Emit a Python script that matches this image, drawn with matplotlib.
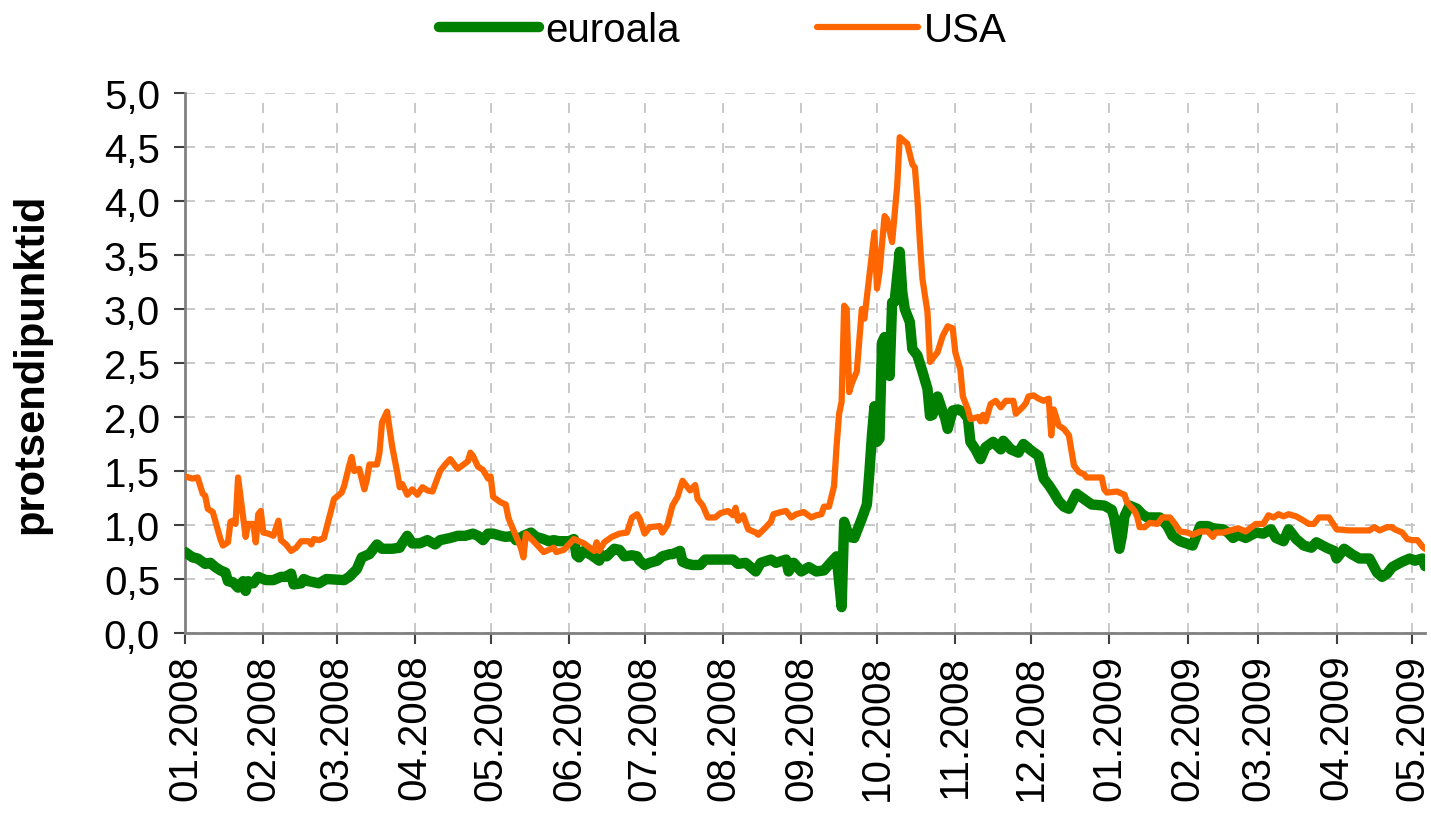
import numpy as np
import pandas as pd
import matplotlib
matplotlib.use('Agg')
import matplotlib.pyplot as plt
import matplotlib.dates as mdates

plt.rcParams['font.family'] = ['Liberation Sans', 'DejaVu Sans']

# Data (days counted from 01.01.2008, spread in percentage points)
start = pd.Timestamp('2008-01-01')

usa_day = [0, 3, 5, 7, 8, 9, 11, 14, 15, 17, 18, 19, 20, 21, 24, 25, 27, 28, 29, 30,
           31, 33, 35, 37, 38, 40, 42, 44, 46, 49, 50, 51, 53, 55, 57, 59, 62, 63, 65, 66,
           67, 69, 71, 72, 73, 76, 77, 78, 80, 82, 84, 85, 86, 88, 90, 92, 94, 96, 98, 101,
           103, 105, 106, 108, 112, 113, 114, 116, 118, 120, 121, 122, 125, 127, 128, 129, 131, 133, 134, 135,
           138, 142, 143, 146, 147, 150, 154, 158, 162, 163, 164, 166, 169, 172, 175, 177, 179, 180, 182, 184,
           188, 189, 191, 193, 195, 197, 200, 202, 203, 205, 207, 210, 212, 215, 217, 218, 219, 221, 223, 226,
           227, 230, 232, 233, 236, 238, 240, 242, 245, 248, 250, 252, 253, 255, 257, 258, 259, 260, 261, 262,
           263, 264, 266, 268, 269, 271, 273, 274, 275, 277, 278, 280, 282, 283, 286, 288, 289, 290, 291, 292,
           294, 295, 298, 300, 302, 304, 305, 307, 308, 310, 311, 314, 315, 316, 317, 319, 321, 323, 325, 328,
           329, 332, 333, 334, 336, 338, 340, 342, 343, 344, 346, 348, 350, 352, 354, 356, 357, 363, 364, 365,
           369, 372, 373, 376, 377, 378, 380, 382, 385, 387, 390, 392, 394, 397, 399, 402, 405, 407, 408, 411,
           414, 417, 420, 424, 427, 429, 431, 433, 435, 437, 440, 443, 445, 447, 449, 453, 456, 461, 469, 471,
           473, 476, 478, 479, 482, 484, 486, 488, 490, 491]
usa_val = [1.45, 1.43, 1.44, 1.29, 1.27, 1.15, 1.12, 0.87, 0.81, 0.84, 1.03, 1.04, 1.01, 1.44, 0.89, 1.01, 1.01, 0.84, 1.10, 1.13,
           0.93, 0.92, 0.90, 1.04, 0.86, 0.82, 0.76, 0.79, 0.85, 0.85, 0.82, 0.87, 0.86, 0.88, 1.06, 1.24, 1.30, 1.36, 1.55, 1.63,
           1.50, 1.52, 1.33, 1.42, 1.56, 1.56, 1.67, 1.95, 2.05, 1.73, 1.49, 1.35, 1.38, 1.28, 1.33, 1.28, 1.35, 1.32, 1.31, 1.50,
           1.56, 1.61, 1.58, 1.52, 1.59, 1.67, 1.64, 1.54, 1.51, 1.43, 1.45, 1.26, 1.21, 1.19, 1.07, 1.01, 0.90, 0.79, 0.70, 0.92,
           0.85, 0.75, 0.76, 0.79, 0.75, 0.77, 0.87, 0.83, 0.76, 0.84, 0.76, 0.84, 0.89, 0.92, 0.93, 1.07, 1.10, 1.06, 0.92, 0.98,
           0.99, 0.93, 1.00, 1.18, 1.26, 1.41, 1.32, 1.37, 1.24, 1.18, 1.07, 1.07, 1.11, 1.13, 1.09, 1.16, 1.04, 1.09, 0.96, 0.93,
           0.91, 0.98, 1.03, 1.10, 1.12, 1.13, 1.07, 1.10, 1.12, 1.07, 1.09, 1.10, 1.17, 1.17, 1.36, 1.73, 2.03, 2.14, 3.03, 3.00,
           2.23, 2.31, 2.42, 3.00, 2.91, 3.31, 3.71, 3.19, 3.34, 3.86, 3.83, 3.62, 4.14, 4.59, 4.53, 4.34, 4.31, 4.02, 3.62, 3.28,
           2.97, 2.51, 2.60, 2.75, 2.84, 2.82, 2.60, 2.44, 2.19, 2.07, 1.98, 2.00, 1.96, 2.02, 1.96, 2.12, 2.15, 2.09, 2.15, 2.15,
           2.03, 2.10, 2.13, 2.19, 2.20, 2.17, 2.15, 2.17, 1.83, 2.07, 1.92, 1.89, 1.83, 1.55, 1.49, 1.47, 1.44, 1.44, 1.33, 1.30,
           1.31, 1.28, 1.21, 1.13, 1.08, 0.98, 0.98, 1.02, 1.01, 1.07, 1.07, 1.01, 0.94, 0.93, 0.91, 0.94, 0.94, 0.89, 0.93, 0.93,
           0.95, 0.97, 0.94, 1.01, 1.01, 1.09, 1.07, 1.10, 1.08, 1.10, 1.08, 1.04, 1.01, 1.01, 1.07, 1.07, 0.96, 0.95, 0.95, 0.98,
           0.95, 0.98, 0.98, 0.96, 0.93, 0.87, 0.86, 0.86, 0.80, 0.78]

euro_day = [0, 3, 5, 8, 10, 12, 14, 16, 17, 19, 21, 23, 24, 25, 27, 29, 32, 35, 38, 40,
            42, 43, 46, 47, 49, 53, 56, 63, 65, 68, 70, 73, 76, 78, 82, 85, 86, 88, 90, 93,
            96, 99, 101, 105, 108, 111, 114, 116, 118, 120, 122, 125, 127, 130, 131, 134, 137, 139, 142, 144,
            146, 148, 152, 154, 155, 156, 158, 161, 164, 165, 167, 170, 172, 174, 177, 179, 180, 182, 184, 187,
            189, 192, 193, 196, 197, 199, 201, 204, 206, 211, 217, 219, 222, 226, 228, 232, 234, 238, 239, 241,
            244, 247, 250, 253, 256, 258, 260, 261, 263, 265, 268, 270, 271, 272, 273, 274, 275, 276, 277, 278,
            279, 280, 281, 283, 284, 285, 287, 288, 290, 292, 294, 295, 296, 298, 300, 301, 302, 304, 306, 308,
            310, 311, 313, 315, 317, 320, 323, 324, 327, 330, 332, 335, 338, 340, 342, 344, 346, 348, 350, 353,
            356, 359, 364, 367, 368, 370, 371, 372, 374, 377, 379, 381, 386, 389, 391, 394, 399, 402, 405, 407,
            411, 413, 415, 417, 420, 424, 427, 430, 432, 435, 437, 440, 443, 446, 448, 452, 455, 456, 459, 462,
            465, 469, 472, 474, 476, 478, 482, 485, 487, 490, 491]
euro_val = [0.75, 0.70, 0.69, 0.64, 0.65, 0.61, 0.58, 0.56, 0.48, 0.47, 0.42, 0.48, 0.39, 0.48, 0.46, 0.52, 0.49, 0.49, 0.52, 0.52,
            0.55, 0.45, 0.46, 0.50, 0.48, 0.46, 0.50, 0.49, 0.52, 0.59, 0.70, 0.73, 0.82, 0.78, 0.78, 0.79, 0.83, 0.90, 0.83, 0.83,
            0.86, 0.82, 0.86, 0.88, 0.90, 0.90, 0.92, 0.90, 0.86, 0.92, 0.92, 0.90, 0.89, 0.90, 0.86, 0.90, 0.93, 0.89, 0.87, 0.85,
            0.86, 0.85, 0.85, 0.87, 0.72, 0.70, 0.76, 0.72, 0.67, 0.72, 0.71, 0.78, 0.77, 0.71, 0.72, 0.71, 0.67, 0.63, 0.65, 0.67,
            0.71, 0.73, 0.73, 0.76, 0.66, 0.64, 0.63, 0.63, 0.68, 0.68, 0.68, 0.64, 0.65, 0.57, 0.65, 0.68, 0.65, 0.68, 0.57, 0.65,
            0.57, 0.61, 0.57, 0.58, 0.66, 0.71, 0.24, 1.03, 0.89, 0.88, 1.06, 1.19, 1.49, 1.83, 2.10, 1.77, 1.80, 2.69, 2.74, 2.60,
            2.38, 3.06, 3.07, 3.53, 3.16, 3.00, 2.88, 2.63, 2.57, 2.42, 2.26, 2.01, 2.02, 2.19, 2.05, 1.99, 1.89, 2.06, 2.07, 2.05,
            1.99, 1.77, 1.70, 1.61, 1.72, 1.77, 1.70, 1.78, 1.70, 1.67, 1.75, 1.69, 1.64, 1.43, 1.37, 1.30, 1.22, 1.17, 1.15, 1.29,
            1.24, 1.19, 1.18, 1.14, 1.06, 0.78, 0.90, 1.08, 1.18, 1.15, 1.10, 1.07, 1.07, 0.99, 0.90, 0.85, 0.81, 0.99, 0.99, 0.97,
            0.96, 0.93, 0.88, 0.91, 0.88, 0.93, 0.92, 0.96, 0.88, 0.85, 0.96, 0.87, 0.81, 0.79, 0.84, 0.79, 0.76, 0.69, 0.78, 0.73,
            0.69, 0.69, 0.56, 0.52, 0.55, 0.61, 0.66, 0.69, 0.67, 0.69, 0.62]

usa_dates = start + pd.to_timedelta(usa_day, unit='D')
euro_dates = start + pd.to_timedelta(euro_day, unit='D')

fig = plt.figure(figsize=(14.31, 8.2), dpi=100)
ax = fig.add_axes([0.1293, 0.2268, 0.8665, 0.6586])

ax.plot(euro_dates, euro_val, color='#008000', lw=7.5, solid_joinstyle='round',
        solid_capstyle='round', label='euroala', zorder=3)
ax.plot(usa_dates, usa_val, color='#FF6600', lw=4.5, solid_joinstyle='round',
        solid_capstyle='round', label='USA', zorder=4)

ax.set_xlim(start, start + pd.Timedelta(days=491))
ax.set_ylim(0, 5)
ax.set_yticks(np.arange(0, 5.01, 0.5))
ax.set_yticklabels([f'{v:.1f}'.replace('.', ',') for v in np.arange(0, 5.01, 0.5)])

ax.xaxis.set_major_locator(mdates.MonthLocator())
ax.xaxis.set_major_formatter(mdates.DateFormatter('%m.%Y'))
plt.setp(ax.get_xticklabels(), rotation=90, ha='center', va='top')

ax.grid(True, color='#C0C0C0', linestyle=(0, (6, 6)), linewidth=1.2)
ax.set_axisbelow(True)
for s in ['top', 'right']:
    ax.spines[s].set_visible(False)
for s in ['left', 'bottom']:
    ax.spines[s].set_color('#808080')
    ax.spines[s].set_linewidth(2)

ax.tick_params(axis='both', labelsize=29, length=8, width=1.5, color='#404040', direction='out')
ax.tick_params(axis='y', pad=10)
ax.tick_params(axis='x', pad=7)

ax.set_ylabel('protsendipunktid', fontsize=30, fontweight='bold', labelpad=38)

leg = fig.legend(loc='center', bbox_to_anchor=(0.505, 0.962), ncol=2, frameon=False, fontsize=29,
                 handlelength=2.5, handletextpad=0.15, columnspacing=3.4)
for h in leg.get_lines():
    h.set_solid_capstyle('round')

fig.savefig('out.png', dpi=100)
